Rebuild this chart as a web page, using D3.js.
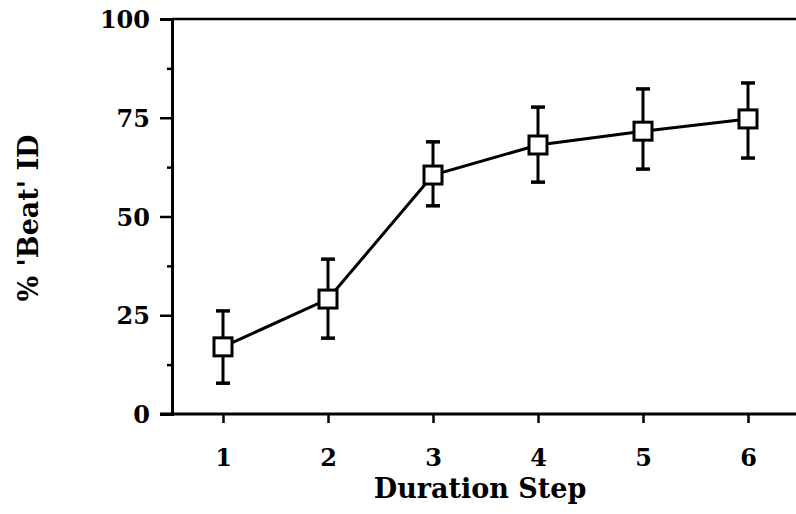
<!DOCTYPE html>
<html>
<head>
<meta charset="utf-8">
<script src="https://cdn.jsdelivr.net/npm/d3@7"></script>
<style>
  body { margin: 0; background: #fff; }
  svg text { font-family: "DejaVu Serif", "Liberation Serif", serif; font-weight: bold; fill: #000; }
</style>
</head>
<body>
<script>
// duration steps and mean % 'beat' identification with error bar ends
var steps = [1, 2, 3, 4, 5, 6];
var meanPct = [17.0, 29.1, 60.5, 68.1, 71.6, 74.7];
var upperPct = [26.1, 39.2, 68.9, 77.7, 82.3, 83.8];
var lowerPct = [7.8, 19.2, 52.7, 58.7, 62.0, 64.8];
var yTicks = [0, 25, 50, 75, 100];
var yMinor = [12.5, 37.5, 62.5, 87.5];

var data = steps.map(function(s, i) {
  return {step: s, mean: meanPct[i], hi: upperPct[i], lo: lowerPct[i]};
});

var margin = {top: 19, right: 0, bottom: 100, left: 172},
    width = 796 - margin.left - margin.right,
    height = 514 - margin.top - margin.bottom;

var x = d3.scaleLinear().domain([1, 6]).range([51, 576]);
var y = d3.scaleLinear().domain([0, 100]).range([height, 0]);

var svg = d3.select("body").append("svg")
    .attr("width", 796)
    .attr("height", 514)
  .append("g")
    .attr("transform", "translate(" + margin.left + "," + margin.top + ")");

// frame lines: top and bottom run off the right edge
svg.append("line")
    .attr("x1", 0).attr("x2", width)
    .attr("y1", y(100)).attr("y2", y(100))
    .attr("stroke", "#000").attr("stroke-width", 2.5);

// y axis
var yAxis = svg.append("g")
    .call(d3.axisLeft(y).tickValues(yTicks).tickSize(12).tickPadding(10));
yAxis.select(".domain").attr("stroke-width", 3);
yAxis.selectAll(".tick line").attr("stroke-width", 2.5);
yAxis.selectAll(".tick text").style("font-size", "24px").attr("dy", "0.36em");

svg.append("g")
    .call(d3.axisLeft(y).tickValues(yMinor).tickSize(5).tickFormat(""))
  .call(function(g) { g.select(".domain").remove(); })
  .selectAll(".tick line").attr("stroke-width", 2.5);

// x axis
var xAxis = svg.append("g")
    .attr("transform", "translate(0," + height + ")")
    .call(d3.axisBottom(x).tickValues(steps).tickFormat(d3.format("d"))
      .tickSize(9).tickPadding(26).tickSizeOuter(0));
xAxis.select(".domain").attr("d", "M-12,0H" + width).attr("stroke-width", 3);
xAxis.selectAll(".tick line").attr("stroke-width", 2.5);
xAxis.selectAll(".tick text").style("font-size", "24px");

// error bars
var err = svg.selectAll(".err")
    .data(data)
  .enter().append("g")
    .attr("class", "err");

err.append("line")
    .attr("x1", function(d) { return x(d.step); })
    .attr("x2", function(d) { return x(d.step); })
    .attr("y1", function(d) { return y(d.hi); })
    .attr("y2", function(d) { return y(d.lo); })
    .attr("stroke", "#000").attr("stroke-width", 3);

err.selectAll(".cap")
    .data(function(d) { return [{step: d.step, v: d.hi}, {step: d.step, v: d.lo}]; })
  .enter().append("line")
    .attr("class", "cap")
    .attr("x1", function(d) { return x(d.step) - 7; })
    .attr("x2", function(d) { return x(d.step) + 7; })
    .attr("y1", function(d) { return y(d.v); })
    .attr("y2", function(d) { return y(d.v); })
    .attr("stroke", "#000").attr("stroke-width", 3.5);

// mean line
svg.append("path")
    .datum(data)
    .attr("fill", "none")
    .attr("stroke", "#000")
    .attr("stroke-width", 3)
    .attr("d", d3.line()
      .x(function(d) { return x(d.step); })
      .y(function(d) { return y(d.mean); }));

// open square markers
svg.selectAll(".pt")
    .data(data)
  .enter().append("rect")
    .attr("class", "pt")
    .attr("x", function(d) { return x(d.step) - 9; })
    .attr("y", function(d) { return y(d.mean) - 9; })
    .attr("width", 18)
    .attr("height", 18)
    .attr("fill", "#fff")
    .attr("stroke", "#000")
    .attr("stroke-width", 3);

// axis titles
svg.append("text")
    .attr("x", 308)
    .attr("y", height + 84)
    .attr("text-anchor", "middle")
    .style("font-size", "27px")
    .text("Duration Step");

svg.append("text")
    .attr("transform", "translate(" + (-134) + "," + 199 + ") rotate(-90)")
    .attr("text-anchor", "middle")
    .style("font-size", "27px")
    .text("% 'Beat' ID");
</script>
</body>
</html>
